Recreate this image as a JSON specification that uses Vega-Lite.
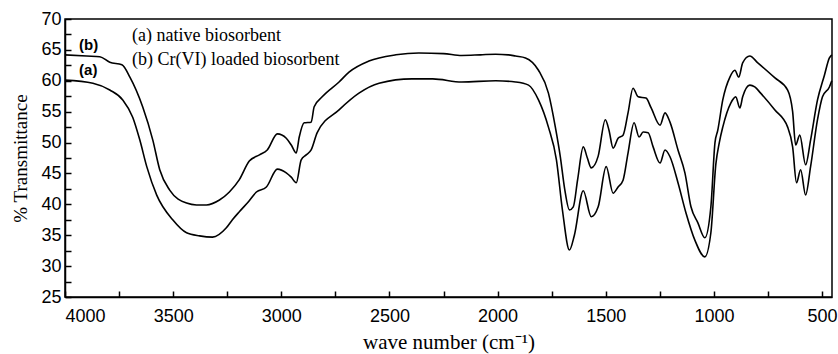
{
  "$schema": "https://vega.github.io/schema/vega-lite/v6.json",
  "width": 767,
  "height": 278,
  "autosize": {"type": "none"},
  "padding": {"left": 65, "top": 19, "right": 6, "bottom": 57},
  "background": "white",
  "config": {
    "view": {"stroke": "black", "strokeWidth": 1.5},
    "axis": {
      "domainColor": "black",
      "domainWidth": 1.5,
      "tickColor": "black",
      "tickWidth": 1.5,
      "labelColor": "black",
      "titleColor": "black",
      "grid": false,
      "labelFont": "Liberation Sans",
      "labelFontSize": 18,
      "labelOverlap": false,
      "titleFont": "Liberation Serif",
      "titleFontWeight": "normal"
    }
  },
  "datasets": {
    "spectra": [
      {"wn": 4000, "t": 64.2, "s": "b"}, {"wn": 3900, "t": 64.0, "s": "b"}, {"wn": 3839, "t": 63.9, "s": "b"},
      {"wn": 3793, "t": 63.0, "s": "b"}, {"wn": 3737, "t": 62.6, "s": "b"}, {"wn": 3700, "t": 60.6, "s": "b"},
      {"wn": 3641, "t": 55.8, "s": "b"}, {"wn": 3594, "t": 50.4, "s": "b"}, {"wn": 3562, "t": 45.6, "s": "b"},
      {"wn": 3516, "t": 42.3, "s": "b"}, {"wn": 3438, "t": 40.2, "s": "b"}, {"wn": 3392, "t": 39.9, "s": "b"},
      {"wn": 3346, "t": 39.9, "s": "b"}, {"wn": 3286, "t": 40.7, "s": "b"}, {"wn": 3240, "t": 42.0, "s": "b"},
      {"wn": 3194, "t": 44.0, "s": "b"}, {"wn": 3148, "t": 47.0, "s": "b"}, {"wn": 3101, "t": 48.0, "s": "b"},
      {"wn": 3065, "t": 48.8, "s": "b"}, {"wn": 3018, "t": 51.4, "s": "b"}, {"wn": 2977, "t": 50.7, "s": "b"},
      {"wn": 2954, "t": 49.6, "s": "b"}, {"wn": 2931, "t": 48.3, "s": "b"}, {"wn": 2917, "t": 50.9, "s": "b"},
      {"wn": 2894, "t": 53.2, "s": "b"}, {"wn": 2862, "t": 53.3, "s": "b"}, {"wn": 2848, "t": 55.8, "s": "b"},
      {"wn": 2811, "t": 57.4, "s": "b"}, {"wn": 2733, "t": 59.8, "s": "b"}, {"wn": 2687, "t": 61.4, "s": "b"},
      {"wn": 2595, "t": 63.2, "s": "b"}, {"wn": 2470, "t": 64.2, "s": "b"}, {"wn": 2364, "t": 64.5, "s": "b"},
      {"wn": 2250, "t": 64.4, "s": "b"}, {"wn": 2166, "t": 64.1, "s": "b"}, {"wn": 2080, "t": 64.2, "s": "b"},
      {"wn": 2009, "t": 64.3, "s": "b"}, {"wn": 1950, "t": 64.2, "s": "b"}, {"wn": 1917, "t": 64.0, "s": "b"},
      {"wn": 1871, "t": 63.7, "s": "b"}, {"wn": 1811, "t": 61.7, "s": "b"}, {"wn": 1765, "t": 58.0, "s": "b"},
      {"wn": 1733, "t": 52.5, "s": "b"}, {"wn": 1710, "t": 47.7, "s": "b"}, {"wn": 1690, "t": 42.5, "s": "b"},
      {"wn": 1668, "t": 39.1, "s": "b"}, {"wn": 1650, "t": 39.6, "s": "b"}, {"wn": 1630, "t": 44.0, "s": "b"},
      {"wn": 1604, "t": 49.3, "s": "b"}, {"wn": 1585, "t": 47.5, "s": "b"}, {"wn": 1567, "t": 45.9, "s": "b"},
      {"wn": 1535, "t": 47.8, "s": "b"}, {"wn": 1502, "t": 53.7, "s": "b"}, {"wn": 1485, "t": 52.0, "s": "b"},
      {"wn": 1466, "t": 49.1, "s": "b"}, {"wn": 1443, "t": 50.7, "s": "b"}, {"wn": 1420, "t": 51.2, "s": "b"},
      {"wn": 1397, "t": 54.8, "s": "b"}, {"wn": 1374, "t": 58.8, "s": "b"}, {"wn": 1350, "t": 57.4, "s": "b"},
      {"wn": 1314, "t": 57.2, "s": "b"}, {"wn": 1290, "t": 55.6, "s": "b"}, {"wn": 1249, "t": 52.8, "s": "b"},
      {"wn": 1226, "t": 54.8, "s": "b"}, {"wn": 1203, "t": 53.3, "s": "b"}, {"wn": 1166, "t": 48.8, "s": "b"},
      {"wn": 1134, "t": 45.1, "s": "b"}, {"wn": 1106, "t": 39.6, "s": "b"}, {"wn": 1074, "t": 37.0, "s": "b"},
      {"wn": 1042, "t": 34.6, "s": "b"}, {"wn": 1014, "t": 39.6, "s": "b"}, {"wn": 995, "t": 50.0, "s": "b"},
      {"wn": 982, "t": 52.0, "s": "b"}, {"wn": 959, "t": 56.9, "s": "b"}, {"wn": 926, "t": 60.6, "s": "b"},
      {"wn": 903, "t": 61.7, "s": "b"}, {"wn": 885, "t": 60.6, "s": "b"}, {"wn": 867, "t": 62.9, "s": "b"},
      {"wn": 834, "t": 64.0, "s": "b"}, {"wn": 797, "t": 62.9, "s": "b"}, {"wn": 719, "t": 60.5, "s": "b"},
      {"wn": 659, "t": 58.5, "s": "b"}, {"wn": 636, "t": 55.0, "s": "b"}, {"wn": 622, "t": 49.6, "s": "b"},
      {"wn": 603, "t": 51.2, "s": "b"}, {"wn": 576, "t": 46.4, "s": "b"}, {"wn": 553, "t": 50.4, "s": "b"},
      {"wn": 521, "t": 56.9, "s": "b"}, {"wn": 489, "t": 60.9, "s": "b"}, {"wn": 466, "t": 63.7, "s": "b"},
      {"wn": 455, "t": 64.2, "s": "b"},
      {"wn": 4000, "t": 60.1, "s": "a"}, {"wn": 3871, "t": 59.6, "s": "a"}, {"wn": 3793, "t": 58.5, "s": "a"},
      {"wn": 3733, "t": 56.9, "s": "a"}, {"wn": 3687, "t": 54.1, "s": "a"}, {"wn": 3654, "t": 50.4, "s": "a"},
      {"wn": 3622, "t": 46.1, "s": "a"}, {"wn": 3576, "t": 41.5, "s": "a"}, {"wn": 3502, "t": 37.5, "s": "a"},
      {"wn": 3438, "t": 35.4, "s": "a"}, {"wn": 3378, "t": 34.9, "s": "a"}, {"wn": 3318, "t": 34.7, "s": "a"},
      {"wn": 3254, "t": 36.2, "s": "a"}, {"wn": 3226, "t": 37.5, "s": "a"}, {"wn": 3194, "t": 38.8, "s": "a"},
      {"wn": 3150, "t": 40.5, "s": "a"}, {"wn": 3115, "t": 42.0, "s": "a"}, {"wn": 3069, "t": 42.8, "s": "a"},
      {"wn": 3018, "t": 45.7, "s": "a"}, {"wn": 2977, "t": 45.1, "s": "a"}, {"wn": 2954, "t": 44.4, "s": "a"},
      {"wn": 2931, "t": 43.5, "s": "a"}, {"wn": 2908, "t": 47.2, "s": "a"}, {"wn": 2885, "t": 48.0, "s": "a"},
      {"wn": 2862, "t": 48.8, "s": "a"}, {"wn": 2834, "t": 51.6, "s": "a"}, {"wn": 2733, "t": 55.3, "s": "a"},
      {"wn": 2641, "t": 58.0, "s": "a"}, {"wn": 2548, "t": 59.6, "s": "a"}, {"wn": 2396, "t": 60.3, "s": "a"},
      {"wn": 2300, "t": 60.3, "s": "a"}, {"wn": 2166, "t": 59.8, "s": "a"}, {"wn": 2009, "t": 60.0, "s": "a"},
      {"wn": 1917, "t": 59.8, "s": "a"}, {"wn": 1857, "t": 59.3, "s": "a"}, {"wn": 1811, "t": 56.9, "s": "a"},
      {"wn": 1765, "t": 52.5, "s": "a"}, {"wn": 1728, "t": 47.2, "s": "a"}, {"wn": 1700, "t": 39.0, "s": "a"},
      {"wn": 1668, "t": 32.6, "s": "a"}, {"wn": 1645, "t": 35.0, "s": "a"}, {"wn": 1604, "t": 42.2, "s": "a"},
      {"wn": 1567, "t": 38.0, "s": "a"}, {"wn": 1535, "t": 39.6, "s": "a"}, {"wn": 1498, "t": 46.1, "s": "a"},
      {"wn": 1466, "t": 41.8, "s": "a"}, {"wn": 1443, "t": 42.8, "s": "a"}, {"wn": 1420, "t": 43.9, "s": "a"},
      {"wn": 1397, "t": 48.3, "s": "a"}, {"wn": 1369, "t": 53.2, "s": "a"}, {"wn": 1346, "t": 50.9, "s": "a"},
      {"wn": 1327, "t": 51.7, "s": "a"}, {"wn": 1304, "t": 51.6, "s": "a"}, {"wn": 1281, "t": 49.3, "s": "a"},
      {"wn": 1249, "t": 46.7, "s": "a"}, {"wn": 1226, "t": 48.8, "s": "a"}, {"wn": 1203, "t": 47.7, "s": "a"},
      {"wn": 1166, "t": 43.5, "s": "a"}, {"wn": 1129, "t": 38.6, "s": "a"}, {"wn": 1088, "t": 34.2, "s": "a"},
      {"wn": 1042, "t": 31.5, "s": "a"}, {"wn": 1014, "t": 35.4, "s": "a"}, {"wn": 991, "t": 46.5, "s": "a"},
      {"wn": 975, "t": 50.0, "s": "a"}, {"wn": 959, "t": 52.5, "s": "a"}, {"wn": 922, "t": 56.4, "s": "a"},
      {"wn": 899, "t": 57.4, "s": "a"}, {"wn": 880, "t": 55.6, "s": "a"}, {"wn": 867, "t": 57.4, "s": "a"},
      {"wn": 834, "t": 59.3, "s": "a"}, {"wn": 811, "t": 59.0, "s": "a"}, {"wn": 784, "t": 58.0, "s": "a"},
      {"wn": 719, "t": 55.3, "s": "a"}, {"wn": 659, "t": 52.5, "s": "a"}, {"wn": 636, "t": 49.3, "s": "a"},
      {"wn": 618, "t": 43.5, "s": "a"}, {"wn": 599, "t": 45.6, "s": "a"}, {"wn": 576, "t": 41.5, "s": "a"},
      {"wn": 553, "t": 46.1, "s": "a"}, {"wn": 521, "t": 53.7, "s": "a"}, {"wn": 498, "t": 57.4, "s": "a"},
      {"wn": 466, "t": 59.0, "s": "a"}, {"wn": 455, "t": 60.0, "s": "a"}
    ],
    "legendText": [
      {"wn": 3690, "t": 67.3, "label": "(a) native biosorbent"},
      {"wn": 3690, "t": 63.4, "label": "(b) Cr(VI) loaded biosorbent"}
    ],
    "curveLabels": [
      {"wn": 3935, "t": 65.8, "label": "(b)"},
      {"wn": 3935, "t": 61.8, "label": "(a)"}
    ]
  },
  "encoding": {
    "x": {
      "field": "wn", "type": "quantitative",
      "scale": {"domain": [454, 4000], "reverse": true, "nice": false, "zero": false},
      "axis": {
        "title": "wave number (cm⁻¹)",
        "titleFontSize": 21,
        "values": [4000, 3750, 3500, 3250, 3000, 2750, 2500, 2250, 2000, 1750, 1500, 1250, 1000, 750, 500],
        "labelExpr": "datum.value % 500 === 0 ? datum.label : ''",
        "labelOverlap": false,
        "format": "d",
        "tickSize": -6,
        "labelPadding": 16,
        "titlePadding": 6
      }
    },
    "y": {
      "field": "t", "type": "quantitative",
      "scale": {"domain": [25, 70], "nice": false, "zero": false},
      "axis": {
        "title": "% Transmittance",
        "titleFontSize": 19,
        "values": [25, 27.5, 30, 32.5, 35, 37.5, 40, 42.5, 45, 47.5, 50, 52.5, 55, 57.5, 60, 62.5, 65, 67.5, 70],
        "labelExpr": "round(datum.value) === datum.value && datum.value % 5 === 0 ? toString(datum.value) : ''",
        "labelOverlap": false,
        "tickSize": -6,
        "labelPadding": 10,
        "titlePadding": 10
      }
    }
  },
  "layer": [
    {
      "data": {"name": "spectra"},
      "mark": {"type": "line", "color": "black", "strokeWidth": 1.6, "interpolate": "monotone"},
      "encoding": {
        "detail": {"field": "s", "type": "nominal"}
      }
    },
    {
      "data": {"name": "legendText"},
      "mark": {"type": "text", "align": "left", "baseline": "middle", "font": "Liberation Serif", "fontSize": 18, "color": "black"},
      "encoding": {
        "text": {"field": "label"}
      }
    },
    {
      "data": {"name": "curveLabels"},
      "mark": {"type": "text", "align": "left", "baseline": "middle", "font": "Liberation Sans", "fontSize": 15, "fontWeight": "bold", "color": "black"},
      "encoding": {
        "text": {"field": "label"}
      }
    }
  ]
}
